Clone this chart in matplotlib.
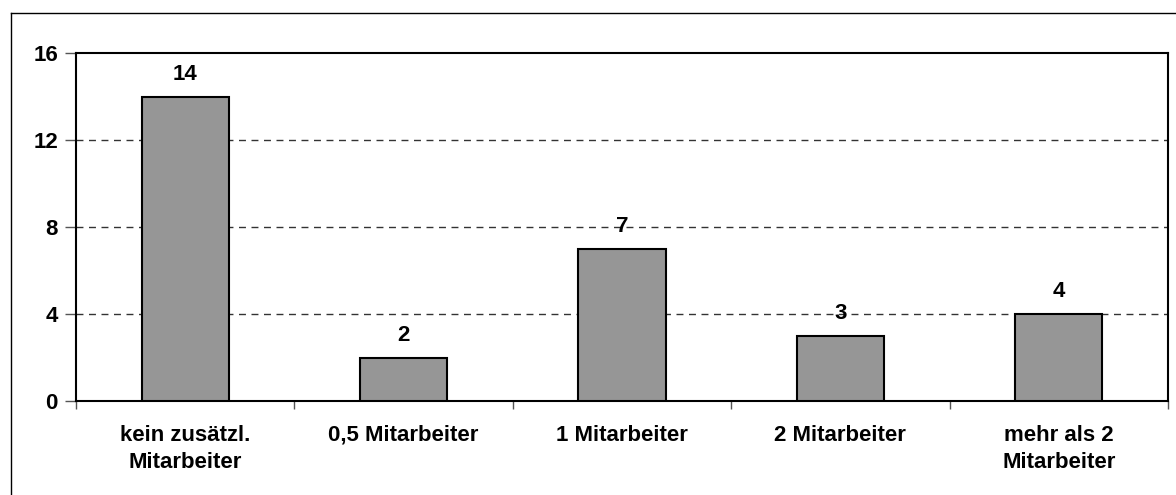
import matplotlib
matplotlib.use("Agg")
import matplotlib.pyplot as plt
from matplotlib.lines import Line2D

categories = ["kein zusätzl.\nMitarbeiter", "0,5 Mitarbeiter", "1 Mitarbeiter",
              "2 Mitarbeiter", "mehr als 2\nMitarbeiter"]
values = [14, 2, 7, 3, 4]
y_ticks = [0, 4, 8, 12, 16]

plt.rcParams["font.family"] = ["Liberation Sans", "DejaVu Sans"]
plt.rcParams["font.weight"] = "bold"

FS = 16
W, H = 1176, 495
fig = plt.figure(figsize=(W / 100, H / 100), dpi=100)
ax = fig.add_axes([76 / W, 1 - 401 / H, (1168 - 76) / W, (401 - 53) / H])

x = list(range(len(categories)))
ax.bar(x, values, width=0.40, color="#969696", edgecolor="black", linewidth=1.5, zorder=3)

for xi, v in zip(x, values):
    ax.annotate(str(v), (xi, v), xytext=(0, 12), textcoords="offset points",
                ha="center", va="baseline", fontsize=FS, fontweight="bold", zorder=4)

ax.set_xlim(-0.5, len(categories) - 0.5)
ax.set_ylim(0, 16)
ax.set_yticks(y_ticks)
ax.set_yticklabels([str(t) for t in y_ticks], fontsize=FS, fontweight="bold")
for t in y_ticks[1:-1]:
    ax.axhline(t, color="#333333", lw=1, ls=(0, (5, 4)), zorder=1)

# category labels centered, ticks at category boundaries
ax.set_xticks(x)
ax.set_xticklabels(categories, fontsize=FS, fontweight="bold", linespacing=1.4)
ax.tick_params(axis="x", length=0, pad=17)
ax.set_xticks([i - 0.5 for i in range(len(categories) + 1)], minor=True)
ax.tick_params(axis="x", which="minor", length=6, width=1, color="#555555", direction="out")
ax.tick_params(axis="y", length=8, width=1, color="#555555", direction="out", pad=5)

for s in ax.spines.values():
    s.set_linewidth(1.5)
    s.set_color("black")

# chart area frame
fig.add_artist(Line2D([11 / W, 1.0], [1 - 13 / H, 1 - 13 / H], color="black", lw=1,
                      transform=fig.transFigure))
fig.add_artist(Line2D([11 / W, 11 / W], [1 - 13 / H, 0.0], color="black", lw=1,
                      transform=fig.transFigure))

fig.savefig("out.png", dpi=100)
